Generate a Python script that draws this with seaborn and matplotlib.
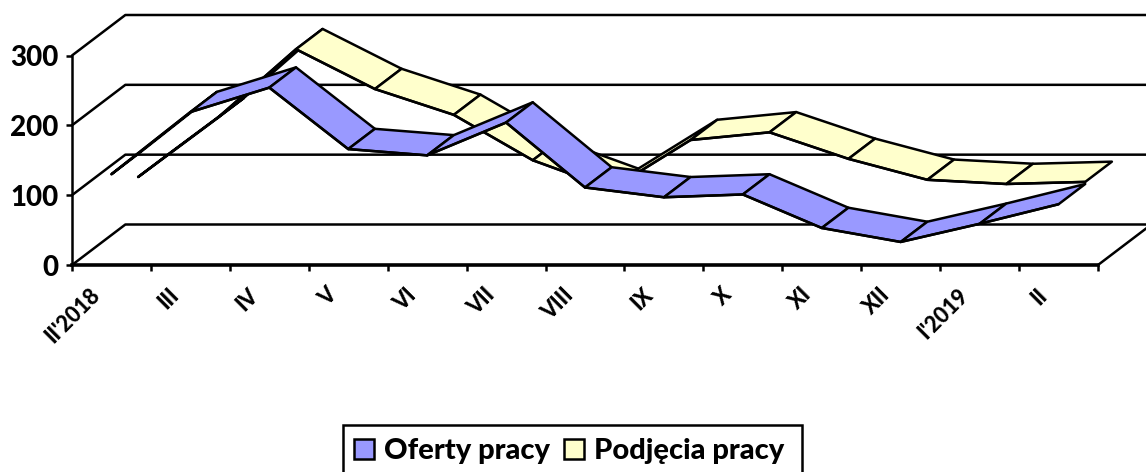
"""Wykres wstazkowy (pseudo 3D): oferty pracy i podjecia pracy, II'2018 - II'2019."""
import matplotlib
matplotlib.use("Agg")
import matplotlib.pyplot as plt
from matplotlib.patches import Patch, Rectangle
from matplotlib.transforms import ScaledTranslation
import numpy as np
import pandas as pd
import seaborn as sns

months = ["II'2018", "III", "IV", "V", "VI", "VII", "VIII", "IX", "X", "XI", "XII", "I'2019", "II"]
oferty = [130, 219, 254, 166, 157, 204, 111, 97, 101, 53, 33, 59, 87]
podjecia = [97, 181, 280, 223, 186, 121, 80, 150, 161, 123, 93, 87, 90]
y_ticks = [0, 100, 200, 300]

BLUE = "#9999FF"
YELLOW = "#FFFFCC"
LW = 1.8

# przesuniecie "w glab" na jedna wstazke, w jednostkach osi
DEPTH_X = 0.338
DEPTH_Y = 29.0

sns.set_theme(style="white")
plt.rcParams["font.family"] = ["Lato", "DejaVu Sans"]
plt.rcParams["font.weight"] = "black"

W, H = 1146, 472
fig = plt.figure(figsize=(W / 100, H / 100), dpi=100)
ax = fig.add_axes([72 / W, (H - 265) / H, 1026 / W, 209.5 / H])
x = np.arange(len(months))
ax.set_xlim(-0.5, len(months) - 0.5)
ax.set_ylim(0, 300)


def ribbon(values, slot, color, z):
    """Rysuje wstazke: segmenty jako wielokaty, krawedzie przez seaborn."""
    vals = np.asarray(values, dtype=float)
    fx, fy = x + slot * DEPTH_X, vals + slot * DEPTH_Y
    bx, by = fx + DEPTH_X, fy + DEPTH_Y
    for i in range(len(x) - 1):
        ax.fill([fx[i], fx[i + 1], bx[i + 1], bx[i]],
                [fy[i], fy[i + 1], by[i + 1], by[i]],
                facecolor=color, edgecolor="black", linewidth=LW,
                joinstyle="round", clip_on=False, zorder=z + i * 0.01)
    # krawedz przednia - na wierzchu swojej wstazki
    edge = pd.DataFrame({"x": fx, "y": fy})
    sns.lineplot(data=edge, x="x", y="y", color="black", linewidth=LW, sort=False,
                 ax=ax, clip_on=False, zorder=z + 0.5)


# sciany: linie siatki z tylu i ukosy po lewej
wall_dx, wall_dy = 2 * DEPTH_X, 2 * DEPTH_Y
x0, x1 = ax.get_xlim()
for v in y_ticks:
    ax.plot([x0, x0 + wall_dx, x1 + wall_dx], [v, v + wall_dy, v + wall_dy],
            color="black", linewidth=LW, clip_on=False, zorder=1)
ax.plot([x1, x1 + wall_dx], [0, wall_dy], color="black", linewidth=LW, clip_on=False, zorder=1)

ribbon(podjecia, 1, YELLOW, 3)
ribbon(oferty, 0, BLUE, 4)

# osie
sns.despine(ax=ax, top=True, right=True)
ax.spines["left"].set_linewidth(LW)
ax.spines["left"].set_color("black")
ax.spines["bottom"].set_linewidth(2.6)
ax.spines["bottom"].set_color("black")
ax.spines["bottom"].set_zorder(6)
ax.set_xlabel("")
ax.set_ylabel("")
ax.set_yticks(y_ticks)
ax.set_yticklabels([str(v) for v in y_ticks], fontsize=20, fontweight="black", color="black")
ax.tick_params(axis="y", length=4.5, width=LW, color="black", left=True, pad=5)

# znaczniki miedzy kategoriami, podpisy na srodku
ax.set_xticks(np.arange(-0.5, len(months)), labels=[])
ax.tick_params(axis="x", which="major", length=4.5, width=LW, color="black", bottom=True)
ax.set_xticks(x, labels=months, minor=True)
ax.tick_params(axis="x", which="minor", length=0, pad=14)
shift = ScaledTranslation(-22 / 100, 0, fig.dpi_scale_trans)
for lab in ax.get_xticklabels(minor=True):
    lab.set(rotation=45, ha="right", va="top", rotation_mode="anchor",
            fontsize=15.5, fontweight="black", color="black")
    lab.set_transform(lab.get_transform() + shift)

# ramka legendy wychodzi poza dol obrazka, wiec rysowana osobno
fig.add_artist(Rectangle((343 / W, -4 / H), 459 / W, (H - 425 + 4) / H, transform=fig.transFigure,
                         facecolor="white", edgecolor="black", linewidth=LW))
handles = [Patch(facecolor=BLUE, edgecolor="black", linewidth=LW, label="Oferty pracy"),
           Patch(facecolor=YELLOW, edgecolor="black", linewidth=LW, label="Podjęcia pracy")]
leg = fig.legend(handles=handles, loc="center left", bbox_to_anchor=(354 / W, (H - 451) / H),
                 ncol=2, frameon=False, labelcolor="black",
                 fontsize=21, handlelength=0.69, handleheight=0.69, handletextpad=0.34,
                 columnspacing=0.48, borderpad=0, borderaxespad=0)

fig.savefig("out.png", dpi=100)
plt.close(fig)
